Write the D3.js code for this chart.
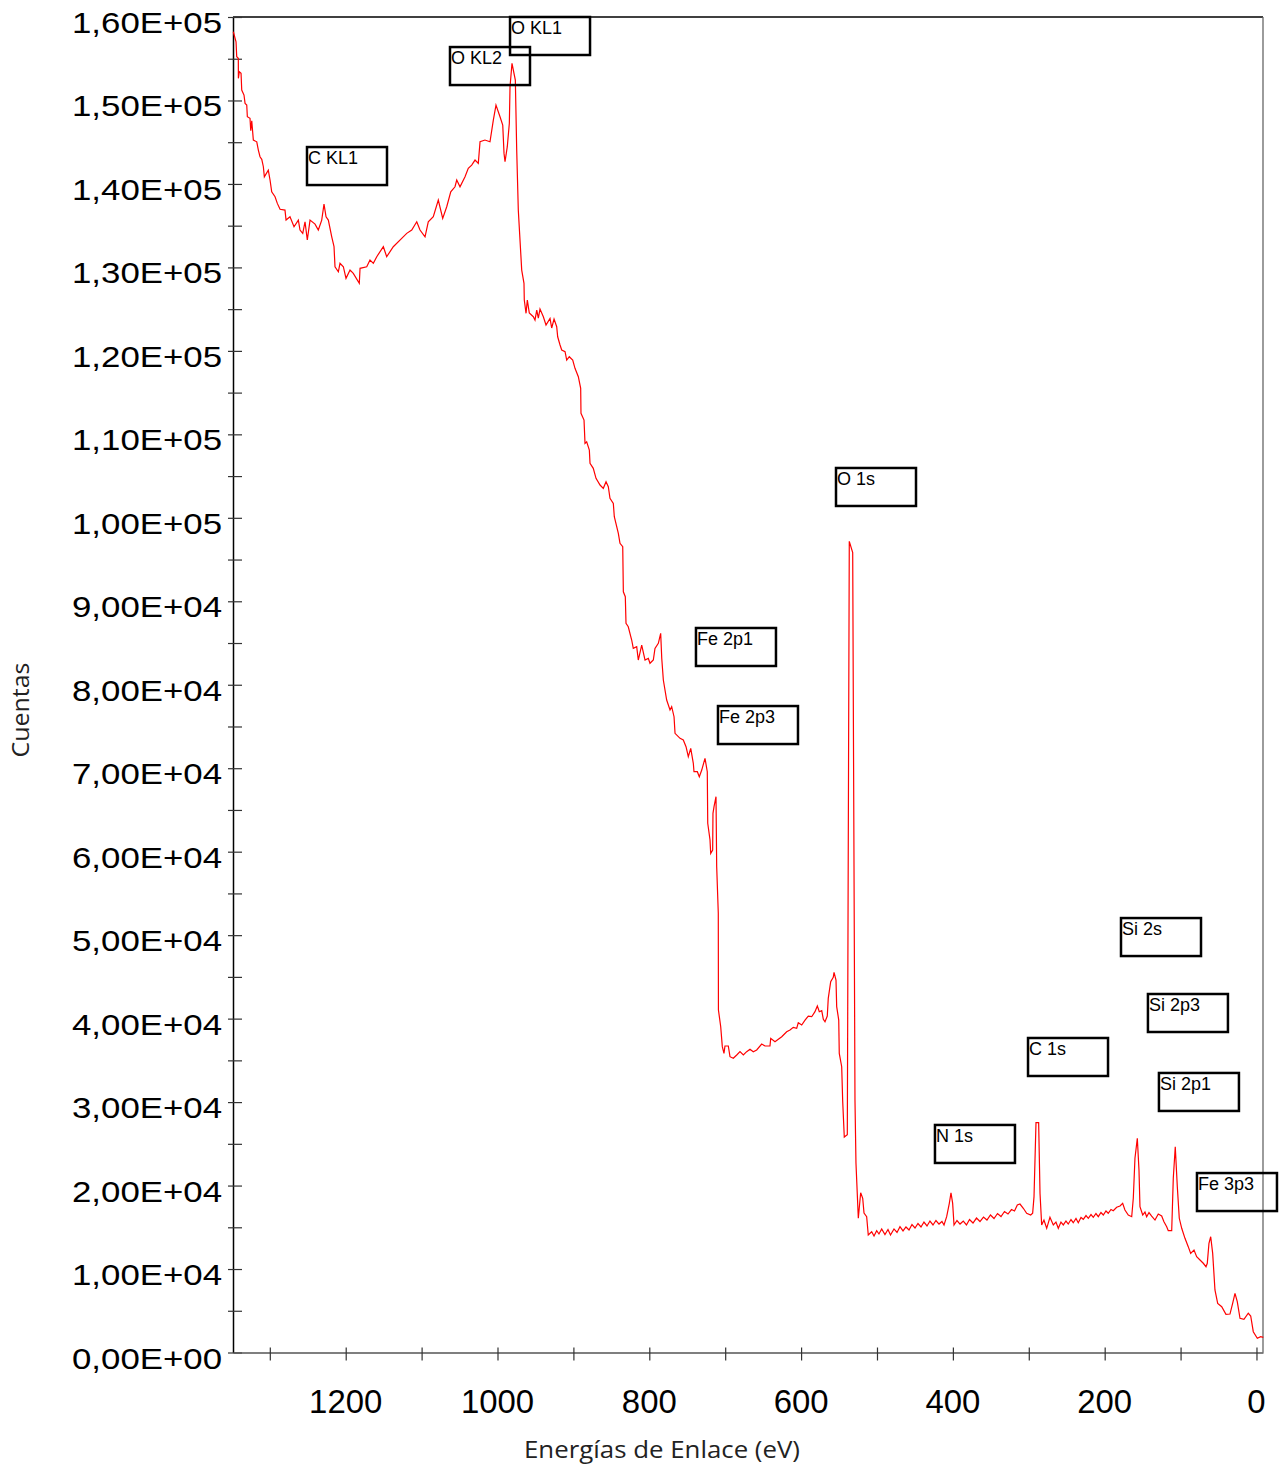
<!DOCTYPE html>
<html><head><meta charset="utf-8">
<script src="https://cdn.jsdelivr.net/npm/d3@7"></script>
<style>body{margin:0;background:#fff;} svg{display:block;}</style>
</head><body>
<svg id="chart" width="1281" height="1468"></svg>
<script>
// XPS survey spectrum: [binding energy (eV), counts]
const spectrum = [
[1348.1,158230],[1344.5,157030],[1343.6,155240],[1341.5,155050],[1341.4,152650],[1340.2,153440],[1337.9,153250],[1337.0,151250],[1334.0,150650],[1332.6,149650],
[1330.4,149450],[1329.6,148050],[1326.1,147860],[1325.1,146370],[1323.8,147570],[1321.7,145260],[1317.2,145050],[1315.1,144060],[1312.9,143260],[1310.6,142950],
[1308.5,142060],[1307.2,140860],[1302.0,141660],[1299.7,140470],[1297.5,139060],[1293.1,138470],[1290.1,137670],[1286.5,136960],[1280.0,136870],[1278.6,135670],
[1273.4,136070],[1268.1,134870],[1262.4,135670],[1260.2,134480],[1256.6,134080],[1253.6,135470],[1250.6,133280],[1247.0,135670],[1240.4,135190],[1236.1,134480],
[1231.6,135670],[1228.6,137590],[1225.9,136070],[1222.9,135670],[1218.4,133670],[1215.4,132480],[1214.1,130080],[1209.7,129480],[1207.5,130490],[1203.1,130080],
[1199.6,128690],[1194.3,129680],[1190.0,129290],[1182.1,128090],[1181.1,129890],[1172.3,130080],[1168.0,130880],[1163.6,130490],[1159.1,131280],[1150.4,132480],
[1146.0,131280],[1137.3,132480],[1126.2,133480],[1119.6,134080],[1113.0,134480],[1106.4,135470],[1102.1,134480],[1095.5,133670],[1091.2,135470],[1084.6,136070],
[1078.0,138070],[1072.2,135880],[1066.9,137270],[1061.6,139060],[1056.0,139660],[1053.7,140470],[1049.4,139660],[1042.8,140860],[1038.5,141870],[1034.0,142260],
[1029.6,142860],[1025.3,142470],[1023.0,145050],[1016.5,145260],[1009.9,145050],[1005.5,147650],[1002.0,149450],[996.7,148050],[993.1,147060],[991.4,143660],
[990.1,142660],[987.1,144460],[984.4,147260],[983.5,151640],[980.9,154450],[976.5,152450],[974.7,144060],[972.6,136870],[968.1,129680],[965.1,128090],
[964.7,126090],[962.4,124500],[960.7,126090],[958.1,124530],[952.8,124090],[950.6,123690],[948.3,124890],[946.2,123930],[944.0,125010],[939.6,124090],
[936.1,123100],[930.8,123900],[928.6,122740],[925.5,123810],[922.0,122890],[920.7,121690],[917.6,120700],[915.4,120100],[911.0,119900],[908.8,118900],
[905.4,119300],[900.9,118900],[897.9,117910],[893.5,116900],[890.4,115510],[890.0,112520],[886.0,111710],[884.7,108920],[882.5,109110],[879.0,108120],
[878.1,106530],[873.8,105930],[870.2,104730],[864.9,103930],[860.6,103530],[857.0,104320],[854.0,103720],[851.8,102330],[847.4,101730],[846.1,100130],
[840.8,98140],[838.6,96940],[835.0,96540],[834.2,91140],[831.6,90550],[830.7,87360],[827.7,86950],[823.2,85360],[821.1,84360],[816.6,84560],
[814.5,82960],[810.0,84760],[805.6,82960],[801.3,83170],[799.1,82570],[794.7,82960],[792.5,84360],[788.1,84960],[785.0,86160],[783.6,83170],
[781.5,80570],[777.1,78170],[772.7,76970],[770.5,77370],[767.4,76170],[766.1,74180],[759.5,73580],[755.2,73380],[751.6,72580],[748.6,71380],
[745.4,72380],[742.0,70590],[741.1,69580],[736.7,69580],[734.1,68980],[730.9,69780],[726.6,71190],[723.6,69580],[723.0,63400],[720.0,61400],
[719.1,59800],[716.5,60200],[716.1,64600],[714.7,65390],[712.1,66590],[711.2,58200],[709.1,52620],[708.9,41030],[705.9,39030],[703.8,36640],
[701.6,35840],[700.3,36720],[695.9,36720],[693.7,35440],[689.3,35250],[684.8,35640],[680.5,36040],[676.1,35640],[671.7,36040],[667.3,36320],
[663.0,36040],[658.5,36240],[651.9,36960],[647.5,36720],[641.0,36720],[640.0,37640],[634.4,37230],[630.0,37520],[625.5,37830],[619.0,38430],
[614.6,38640],[610.3,38960],[605.8,38840],[603.7,39510],[599.2,39240],[594.8,39830],[590.5,40310],[586.0,40230],[581.7,40830],[578.6,41510],
[576.0,40830],[572.8,40950],[570.7,39920],[568.5,39630],[565.5,40310],[564.2,42430],[561.0,44420],[557.6,44950],[556.6,45550],[554.0,44630],
[553.1,41430],[550.4,39830],[549.7,35840],[546.5,34240],[545.2,30130],[543.1,25820],[539.1,26100],[536.5,97180],[532.0,95830],[529.0,30250],
[527.7,22700],[524.6,16080],[521.5,19140],[518.8,18470],[517.1,16710],[513.6,16270],[511.5,14080],
[507.0,14470],[503.9,13960],[500.4,14590],[497.4,14200],[493.8,14800],[489.5,14140],[485.5,14740],[482.2,14080],[477.6,14800],[473.6,14380],
[469.7,15070],[465.7,14560],[461.8,15040],[457.8,14680],[453.9,15330],[449.9,14920],[446.0,15450],[442.0,15040],[438.1,15630],[434.1,15160],
[430.2,15750],[426.2,15280],[422.3,15810],[418.3,15390],[414.4,15690],[411.7,15280],[408.2,16270],[404.7,17870],[402.5,19140],[400.3,17870],
[398.5,15280],[394.6,15810],[390.6,15390],[386.3,15750],[382.1,15280],[378.1,15930],[373.5,15510],[368.9,16110],[364.3,15690],[359.7,16230],
[355.1,15870],[350.5,16470],[345.8,16050],[341.2,16650],[336.6,16290],[332.0,16890],[327.4,16590],[322.8,17130],[318.8,16950],[315.1,17670],
[311.6,17790],[307.2,17280],[302.8,16680],[297.5,16470],[294.9,16680],[293.1,18670],[290.5,27530],[287.0,27530],[285.2,19070],[283.0,15280],
[280.0,15870],[276.4,14880],[272.1,16200],[267.7,15280],[264.2,15630],[261.1,14880],[257.6,15630],[254.5,15280],[251.0,15750],[248.0,15390],
[244.4,15930],[241.4,15550],[237.8,16050],[234.8,15550],[231.2,16170],[228.2,15960],[224.6,16410],[221.6,16080],[218.0,16530],[215.0,16200],
[211.5,16650],[208.4,16270],[204.9,16770],[201.8,16470],[198.3,16950],[195.3,16680],[191.7,17130],[188.7,16990],[184.2,17400],[179.8,17550],
[176.3,17870],[173.3,17070],[168.9,16470],[164.4,16270],[162.3,18470],[160.1,23270],[157.0,25660],[154.8,21860],[153.5,17470],[149.9,16470],
[146.9,16830],[144.7,16270],[141.6,16770],[138.1,16350],[133.7,15870],[129.4,16590],[124.9,16350],[121.9,15670],[118.3,15070],[116.2,14590],
[111.7,14590],[109.6,20870],[107.0,24660],[104.3,19860],[101.7,16080],[98.5,14880],[94.2,13680],[89.9,12680],[86.7,11880],[82.3,12280],
[78.8,11480],[74.4,11080],[70.1,10690],[66.5,10280],[64.8,10690],[62.6,13080],[60.3,13870],[57.7,11880],[54.7,7490],[51.1,5890],
[45.8,5490],[40.2,4580],[34.9,4610],[31.4,5890],[28.3,7090],[25.3,6090],[21.7,4100],[16.5,3980],[10.8,4700],[7.6,4370],
[4.2,2490],[-1.1,1700],[-5.5,1890],[-9.0,1820]
];

const xTickValues = [1300,1200,1100,1000,900,800,700,600,500,400,300,200,100,0];
const xTickLabels = ["1200","1000","800","600","400","200","0"];
const yTickValues = d3.range(0, 160001, 5000);
const yLabelValues = d3.range(0, 160001, 10000);

const annotLabels = ["C KL1","O KL2","O KL1","O 1s","Fe 2p1","Fe 2p3","N 1s","C 1s","Si 2s","Si 2p3","Si 2p1","Fe 3p3"];
const annotEnergy = [1251, 1062.6, 983.5, 554, 738.5, 709.5, 423.6, 301, 178.5, 143, 128.5, 78.4];
const annotCounts = [144420, 156400, 160000, 105970, 86800, 77450, 27260, 37680, 52050, 42950, 33490, 21500];

const xTitle = "Energías de Enlace (eV)";
const yTitle = "Cuentas";

const svg = d3.select("#chart");
const L = 233, R = 1263, T = 17, B = 1352.5;
const x = d3.scaleLinear().domain([1348.5, -8.6]).range([L, R]);
const y = d3.scaleLinear().domain([0, 160000]).range([B, T]);

const font = "'Liberation Sans', Arial, sans-serif";

// frame (top + right)
svg.append("line").attr("x1", L).attr("x2", R).attr("y1", T).attr("y2", T)
  .attr("stroke", "#000").attr("stroke-width", 1.3);
svg.append("line").attr("x1", R).attr("x2", R).attr("y1", T).attr("y2", B)
  .attr("stroke", "#666").attr("stroke-width", 1.3);

// y axis
const yAxis = svg.append("g").attr("transform", `translate(${L},0)`)
  .call(d3.axisLeft(y).tickValues(yTickValues).tickSize(0).tickFormat(""));
yAxis.select(".domain").attr("stroke", "#000").attr("stroke-width", 1.5);
yAxis.selectAll(".tick line").attr("x1", -5).attr("x2", 9).attr("stroke", "#333").attr("stroke-width", 1.2);

function fmtSci(v) {
  if (v === 0) return "0,00E+00";
  const e = Math.floor(Math.log10(v));
  const m = (v / Math.pow(10, e)).toFixed(2).replace(".", ",");
  return m + "E+" + String(e).padStart(2, "0");
}
svg.append("g").selectAll("text").data(yLabelValues).join("text")
  .attr("x", 222).attr("y", d => y(d) + 16)
  .attr("text-anchor", "end")
  .attr("font-family", font).attr("font-size", 30)
  .attr("textLength", 150).attr("lengthAdjust", "spacingAndGlyphs")
  .attr("fill", "#000")
  .text(d => fmtSci(d));

// x axis
const xAxis = svg.append("g").attr("transform", `translate(0,${B})`)
  .call(d3.axisBottom(x).tickValues(xTickValues).tickSize(0).tickFormat(""));
xAxis.select(".domain").attr("stroke", "#555").attr("stroke-width", 1.5);
xAxis.selectAll(".tick line").attr("y1", -5).attr("y2", 8).attr("stroke", "#333").attr("stroke-width", 1.2);

svg.append("g").selectAll("text").data(xTickLabels).join("text")
  .attr("x", d => x(+d)).attr("y", 1413)
  .attr("text-anchor", "middle")
  .attr("font-family", font).attr("font-size", 34)
  .attr("textLength", d => 18.3 * d.length).attr("lengthAdjust", "spacingAndGlyphs")
  .attr("fill", "#000")
  .text(d => d);

// axis titles
svg.append("text").attr("x", 662).attr("y", 1458).attr("text-anchor", "middle")
  .attr("font-family", "'Open Sans','Noto Sans',sans-serif").attr("font-size", 24)
  .attr("textLength", 276).attr("lengthAdjust", "spacingAndGlyphs")
  .attr("fill", "#222").text(xTitle);
svg.append("text").attr("transform", "translate(29,710) rotate(-90)").attr("text-anchor", "middle")
  .attr("font-family", "'Open Sans','Noto Sans',sans-serif").attr("font-size", 24)
  .attr("textLength", 95).attr("lengthAdjust", "spacingAndGlyphs")
  .attr("fill", "#222").text(yTitle);

// spectrum
const line = d3.line().x(d => x(d[0])).y(d => y(d[1]));
svg.append("path").datum(spectrum).attr("d", line)
  .attr("fill", "none").attr("stroke", "#ff0000").attr("stroke-width", 1.2)
  .attr("stroke-linejoin", "miter");

// annotations
const ann = svg.append("g").selectAll("g").data(annotLabels.map((t, i) => ({t, e: annotEnergy[i], c: annotCounts[i]})))
  .join("g").attr("transform", d => `translate(${x(d.e)},${y(d.c)})`);
ann.append("rect").attr("width", 80).attr("height", 38)
  .attr("fill", "none").attr("stroke", "#000").attr("stroke-width", 2.5);
ann.append("text").attr("x", 1).attr("y", 17)
  .attr("font-family", font).attr("font-size", 18).attr("fill", "#000")
  .text(d => d.t);
</script>
</body></html>
